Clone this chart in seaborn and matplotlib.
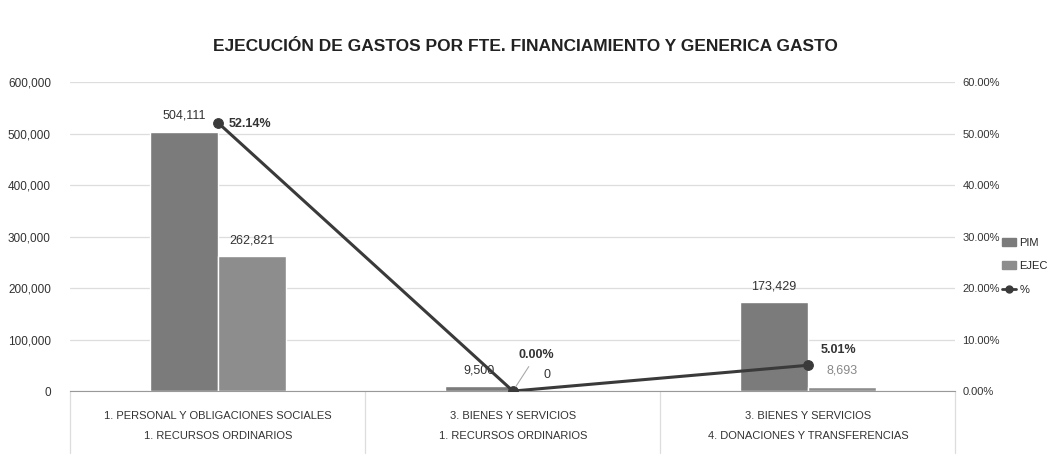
import numpy as np
import pandas as pd
import seaborn as sns
import matplotlib.pyplot as plt
from matplotlib.lines import Line2D
from matplotlib.patches import Patch

# data
generica = ["1. PERSONAL Y OBLIGACIONES SOCIALES", "3. BIENES Y SERVICIOS", "3. BIENES Y SERVICIOS"]
fuente = ["1. RECURSOS ORDINARIOS", "1. RECURSOS ORDINARIOS", "4. DONACIONES Y TRANSFERENCIAS"]
pim = [504111, 9500, 173429]
ejec = [262821, 0, 8693]
pct = [52.14, 0.00, 5.01]

sns.set_style("white")
plt.rcParams['font.family'] = ['Liberation Sans', 'DejaVu Sans']

cats = [f"{g}\n{f}{i}" for i, (g, f) in enumerate(zip(generica, fuente))]
df = pd.DataFrame({
    "cat": cats * 2,
    "serie": ["PIM"] * 3 + ["EJEC"] * 3,
    "valor": pim + ejec,
})

fig = plt.figure(figsize=(10.5, 4.59), dpi=100)
ax = fig.add_axes([0.067, 0.148, 0.843, 0.673])
pal = {"PIM": "#7b7b7b", "EJEC": "#8d8d8d"}
sns.barplot(data=df, x="cat", y="valor", hue="serie", palette=pal, width=0.46,
            gap=0, ax=ax, legend=False, saturation=1)

ax.set_ylim(0, 600000)
ax.set_xlim(-0.5, 2.5)
ax.set_yticks(np.arange(0, 600001, 100000))
ax.set_yticklabels([f"{int(v):,}" for v in ax.get_yticks()], fontsize=8.5, color="#333333")
ax.yaxis.grid(True, color="#dddddd", linewidth=0.9)
ax.set_axisbelow(True)
ax.set_xlabel("")
ax.set_ylabel("")
ax.tick_params(axis="y", length=0, pad=14)
for s in ["top", "left", "right"]:
    ax.spines[s].set_visible(False)
ax.spines["bottom"].set_color("#999999")

# multi-level category labels
ax.set_xticks(range(len(generica)))
ax.set_xticklabels(generica, fontsize=8, color="#333333")
ax.tick_params(axis="x", length=0, pad=14)
tr = ax.get_xaxis_transform()
for i, f in enumerate(fuente):
    ax.text(i, -0.147, f, transform=tr, ha="center", va="center", fontsize=8, color="#333333")
for xs in np.arange(-0.5, len(generica), 1.0):
    ax.plot([xs, xs], [0, -0.2], transform=tr, color="#dddddd", lw=0.9, clip_on=False)

# bar value labels
for cont, vals in zip(ax.containers, [pim, ejec]):
    ax.bar_label(cont, labels=[f"{v:,}" for v in vals], padding=7, fontsize=9,
                 color="#333333")
ax.texts[-1].set_color("#888888")

# percent line on secondary axis
ax2 = ax.twinx()
xpos = np.arange(len(pct))
sns.lineplot(x=xpos, y=pct, ax=ax2, color="#3a3a3a", linewidth=2.2, marker="o",
             markersize=7, markerfacecolor="#3a3a3a", markeredgecolor="#3a3a3a")
ax2.set_ylim(0, 60)
ax2.set_yticks(np.arange(0, 61, 10))
ax2.set_yticklabels([f"{v:.2f}%" for v in ax2.get_yticks()], fontsize=8, color="#333333")
ax2.tick_params(axis="y", length=0, pad=5)
for s in ["top", "left", "right", "bottom"]:
    ax2.spines[s].set_visible(False)

offsets = [(8, -1), (4, 26), (9, 11)]
for x, p, off in zip(xpos, pct, offsets):
    ax2.annotate(f"{p:.2f}%", (x, p), xytext=off, textcoords="offset points",
                 fontsize=9, fontweight="bold", color="#333333", ha="left", va="center",
                 arrowprops=dict(arrowstyle="-", color="#aaaaaa", lw=0.8, shrinkA=2, shrinkB=4)
                 if off[1] > 15 else None)

fig.suptitle("EJECUCIÓN DE GASTOS POR FTE. FINANCIAMIENTO Y GENERICA GASTO",
             x=0.5, y=0.915, fontsize=12.5, fontweight="bold", color="#222222")

handles = [Patch(color=pal["PIM"]), Patch(color=pal["EJEC"]),
           Line2D([], [], color="#3a3a3a", lw=2, marker="o", markersize=5)]
fig.legend(handles, ["PIM", "EJEC", "%"], loc="center left", bbox_to_anchor=(0.953, 0.42),
           frameon=False, fontsize=8, handlelength=1.3, labelspacing=1.2, handletextpad=0.3,
           borderpad=0.1, borderaxespad=0)

fig.savefig("out.png", dpi=100)
